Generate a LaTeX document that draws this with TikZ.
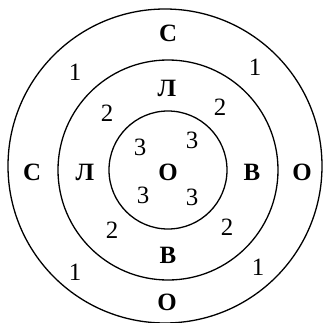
\documentclass[tikz,border=0pt]{standalone}
\usepackage{fontspec}
\setmainfont{Liberation Serif}
\begin{document}
\begin{tikzpicture}[x=1bp, y=1bp,
    bukva/.style={font=\fontsize{25}{25}\selectfont\bfseries},
    cifra/.style={font=\fontsize{25}{25}\selectfont},
    krug/.style={line width=1.3bp}]
    \useasboundingbox (-168,-153) rectangle (155,170);

    % Concentric circles
    \draw[krug] (-3,4) circle (157);
    \draw[krug] (0,0) circle (110);
    \draw[krug] (0,0) circle (59);

    % Outer ring
    \node[bukva] (c1) at (0,137) {С};
    \node[bukva] (c2) at (-136,-2) {С};
    \node[bukva] (o1) at (134,-2) {О};
    \node[bukva] (o2) at (-1,-132) {О};
    \node[cifra] (e1) at (-93,98) {1};
    \node[cifra] (e2) at (87,103) {1};
    \node[cifra] (e3) at (-93,-102) {1};
    \node[cifra] (e4) at (90,-97) {1};

    % Middle ring
    \node[bukva] (l1) at (-1,82) {Л};
    \node[bukva] (l2) at (-83,-2) {Л};
    \node[bukva] (v1) at (84,-2) {В};
    \node[bukva] (v2) at (0,-85) {В};
    \node[cifra] (d1) at (-61,57) {2};
    \node[cifra] (d2) at (52,63) {2};
    \node[cifra] (d3) at (-56,-60) {2};
    \node[cifra] (d4) at (59,-57) {2};

    % Inner circle
    \node[bukva] (o0) at (0,-2) {О};
    \node[cifra] (t1) at (-28,23) {3};
    \node[cifra] (t2) at (24,30) {3};
    \node[cifra] (t3) at (-25,-25) {3};
    \node[cifra] (t4) at (24,-27) {3};
\end{tikzpicture}
\end{document}
